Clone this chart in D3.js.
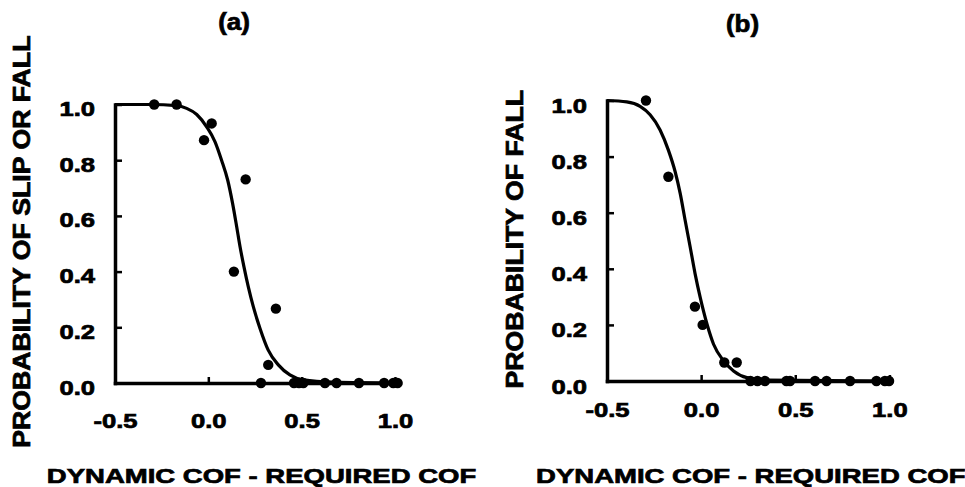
<!DOCTYPE html>
<html>
<head>
<meta charset="utf-8">
<script src="https://cdn.jsdelivr.net/npm/d3@7"></script>
<style>
  html, body { margin: 0; padding: 0; background: #fff; }
  svg { display: block; }
  text { font-family: "Liberation Sans", Arial, sans-serif; font-weight: bold; fill: #000; stroke: #000; stroke-width: 0.7px; }
</style>
</head>
<body>
<svg id="chart" width="965" height="487"></svg>
<script>
// ---------- data ----------
const xTicks = [-0.5, 0.0, 0.5, 1.0];
const yTicks = [0.0, 0.2, 0.4, 0.6, 0.8, 1.0];

// Panel (a): probability of slip or fall
const aPointX = [-0.29, -0.17, 0.018, -0.023, 0.20, 0.137, 0.362, 0.321, 0.282, 0.459, 0.486, 0.509, 0.625, 0.687, 0.807, 0.942, 0.991, 1.014];
const aPointY = [1.0, 1.0, 0.932, 0.872, 0.731, 0.40, 0.267, 0.065, 0, 0, 0, 0, 0, 0, 0, 0, 0, 0];
const aCurveX = [-0.5, -0.31, -0.17, -0.116, -0.062, -0.009, 0.036, 0.071, 0.104, 0.130, 0.152, 0.170, 0.191, 0.214, 0.241, 0.277, 0.321, 0.375, 0.437, 0.509, 0.669, 1.027];
const aCurveY = [1.0, 1.0, 0.996, 0.986, 0.964, 0.920, 0.866, 0.80, 0.728, 0.645, 0.561, 0.489, 0.417, 0.346, 0.274, 0.196, 0.118, 0.065, 0.029, 0.011, 0.003, 0.0];

// Panel (b): probability of fall
const bPointX = [-0.293, -0.174, -0.033, 0.008, 0.123, 0.189, 0.262, 0.299, 0.339, 0.453, 0.472, 0.605, 0.666, 0.791, 0.931, 0.976, 0.998];
const bPointY = [1.0, 0.728, 0.265, 0.20, 0.066, 0.066, 0, 0, 0, 0, 0, 0, 0, 0, 0, 0, 0];
const bCurveX = [-0.5, -0.395, -0.324, -0.271, -0.218, -0.174, -0.138, -0.111, -0.085, -0.058, -0.032, -0.005, 0.031, 0.066, 0.119, 0.172, 0.243, 0.35, 1.01];
const bCurveY = [1.0, 0.995, 0.979, 0.949, 0.895, 0.823, 0.746, 0.668, 0.573, 0.477, 0.382, 0.298, 0.203, 0.131, 0.072, 0.036, 0.012, 0.003, 0.0];

const titles = ["(a)", "(b)"];
const yTitles = ["PROBABILITY OF SLIP OR FALL", "PROBABILITY OF FALL"];
const xTitle = "DYNAMIC COF - REQUIRED COF";

// ---------- layout ----------
const panels = [
  { px: aPointX, py: aPointY, cx: aCurveX, cy: aCurveY, title: titles[0], yTitle: yTitles[0],
    xDom: [-0.5, 1.027], xRange: [115, 400], yRange: [383, 104.5],
    titlePos: [234, 30], yTitlePos: [30, 241.7], xTitlePos: [261.5, 483.3],
    xLabelY: 45, yLabelDy: 11 },
  { px: bPointX, py: bPointY, cx: bCurveX, cy: bCurveY, title: titles[1], yTitle: yTitles[1],
    xDom: [-0.5, 1.01], xRange: [607, 891.3], yRange: [381, 100.5],
    titlePos: [742.5, 31.5], yTitlePos: [523, 239.2], xTitlePos: [750.8, 483.3],
    xLabelY: 36, yLabelDy: 12 }
];

const svg = d3.select("#chart");
svg.append("rect").attr("width", 965).attr("height", 487).attr("fill", "#fff");

const fmt = d => d.toFixed(1);

panels.forEach(p => {
  const x = d3.scaleLinear().domain(p.xDom).range(p.xRange);
  const y = d3.scaleLinear().domain([0, 1]).range(p.yRange);
  const g = svg.append("g");

  // y axis
  const yAx = g.append("g")
    .attr("transform", `translate(${p.xRange[0]},0)`)
    .call(d3.axisLeft(y).tickValues(yTicks).tickFormat(fmt).tickSize(-7).tickSizeOuter(0));
  yAx.select(".domain").attr("stroke", "#000").attr("stroke-width", 3.5).attr("stroke-linecap", "square");
  yAx.selectAll(".tick line").attr("stroke", "#000").attr("stroke-width", 2.5);
  yAx.selectAll(".tick text")
    .attr("x", null).attr("dy", null)
    .attr("text-anchor", "end")
    .attr("font-size", 20)
    .attr("transform", `translate(-20,${p.yLabelDy}) scale(1.28,1)`);

  // x axis
  const xAx = g.append("g")
    .attr("transform", `translate(0,${p.yRange[0]})`)
    .call(d3.axisBottom(x).tickValues(xTicks).tickFormat(fmt).tickSize(-6).tickSizeOuter(0));
  xAx.select(".domain").attr("stroke", "#000").attr("stroke-width", 3.5).attr("stroke-linecap", "square");
  xAx.selectAll(".tick line").attr("stroke", "#000").attr("stroke-width", 2.5);
  xAx.selectAll(".tick text")
    .attr("y", null).attr("dy", null)
    .attr("text-anchor", "middle")
    .attr("font-size", 20)
    .attr("transform", `translate(0,${p.xLabelY}) scale(1.28,1)`);
  g.selectAll(".tick text").attr("fill", "#000").attr("font-weight", "bold")
    .attr("font-family", '"Liberation Sans", Arial, sans-serif');

  // fitted curve
  const curve = p.cx.map((v, i) => [v, p.cy[i]]);
  g.append("path")
    .datum(curve)
    .attr("fill", "none")
    .attr("stroke", "#000")
    .attr("stroke-width", 3.2)
    .attr("d", d3.line().x(d => x(d[0])).y(d => y(d[1])).curve(d3.curveMonotoneX));

  // points
  const pts = p.px.map((v, i) => [v, p.py[i]]);
  g.selectAll("circle.pt").data(pts).enter().append("circle")
    .attr("class", "pt")
    .attr("cx", d => x(d[0]))
    .attr("cy", d => y(d[1]))
    .attr("r", 5.2)
    .attr("fill", "#000");

  // titles
  g.append("text")
    .attr("text-anchor", "middle").attr("font-size", 23)
    .attr("transform", `translate(${p.titlePos[0]},${p.titlePos[1]}) scale(1.13,1)`)
    .text(p.title);
  g.append("text")
    .attr("text-anchor", "middle").attr("font-size", 23)
    .attr("transform", `translate(${p.yTitlePos[0]},${p.yTitlePos[1]}) rotate(-90) scale(1.16,1)`)
    .text(p.yTitle);
  g.append("text")
    .attr("text-anchor", "middle").attr("font-size", 21)
    .attr("transform", `translate(${p.xTitlePos[0]},${p.xTitlePos[1]}) scale(1.31,1)`)
    .text(xTitle);
});
</script>
</body>
</html>
